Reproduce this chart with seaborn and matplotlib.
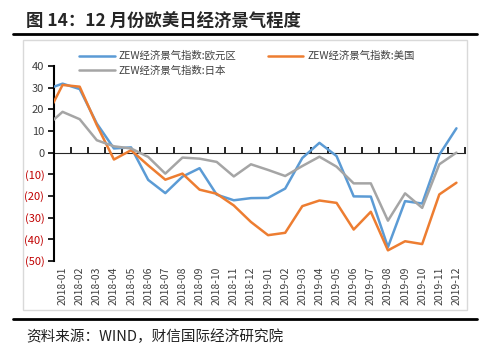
import numpy as np
import pandas as pd
import seaborn as sns
import matplotlib.pyplot as plt
from matplotlib.patches import Rectangle
from matplotlib.lines import Line2D

# months; the first one (2017-12) sits outside the visible range, the line is clipped at the axis
months = ["2017-12",
          "2018-01", "2018-02", "2018-03", "2018-04", "2018-05", "2018-06",
          "2018-07", "2018-08", "2018-09", "2018-10", "2018-11", "2018-12",
          "2019-01", "2019-02", "2019-03", "2019-04", "2019-05", "2019-06",
          "2019-07", "2019-08", "2019-09", "2019-10", "2019-11", "2019-12"]

euro = [29.0, 31.8, 29.3, 13.4, 1.9, 2.4, -12.6, -18.7, -11.1, -7.2, -19.4, -22.0, -21.0,
        -20.9, -16.6, -2.5, 4.5, -1.6, -20.2, -20.3, -43.6, -22.4, -23.5, -1.0, 11.2]
usa = [15.8, 31.2, 30.4, 12.7, -3.2, 1.1, -5.9, -12.5, -9.7, -17.1, -19.0, -24.4, -32.0,
       -38.1, -37.0, -24.7, -22.1, -23.2, -35.5, -27.3, -45.1, -40.9, -42.2, -19.3, -13.9]
japan = [11.8, 18.8, 15.4, 5.7, 2.9, 1.9, -2.0, -9.7, -2.3, -2.8, -4.3, -11.0, -5.4,
         -8.0, -10.8, -6.2, -1.9, -6.5, -14.2, -14.2, -31.4, -18.8, -25.5, -5.4, 0.0]

names = ["ZEW经济景气指数:欧元区", "ZEW经济景气指数:美国", "ZEW经济景气指数:日本"]
colors = ["#5B9BD5", "#ED7D31", "#A5A5A5"]

yticks = [40, 30, 20, 10, 0, -10, -20, -30, -40, -50]

pos = np.arange(len(months)) - 1
df = pd.concat([
    pd.DataFrame({"pos": pos, "value": v, "series": n})
    for v, n in zip([euro, usa, japan], names)
])

sns.set_style("white")
plt.rcParams["font.family"] = ["Noto Sans CJK SC", "DejaVu Sans"]

fig = plt.figure(figsize=(5, 3.58), dpi=100)
ax = fig.add_axes([0.108, 0.271, 0.822, 0.545])

sns.lineplot(data=df, x="pos", y="value", hue="series", palette=dict(zip(names, colors)),
             linewidth=1.8, ax=ax, legend=False, zorder=3)

ax.set_xlim(-0.5, len(months) - 1.5)
ax.set_ylim(-50, 40)
ax.set_xlabel("")
ax.set_ylabel("")

# x labels at the bottom, no ticks there
ax.set_xticks(pos[1:])
ax.set_xticklabels(months[1:], rotation=90, fontsize=7.5, color="#404040")
ax.tick_params(axis="x", length=0, pad=4)

ax.set_yticks(yticks)
ax.set_yticklabels([str(t) if t >= 0 else "(%d)" % -t for t in yticks], fontsize=8)
for lab, t in zip(ax.get_yticklabels(), yticks):
    lab.set_color("#C00000" if t < 0 else "#404040")
ax.tick_params(axis="y", direction="out", length=4, width=1.2, color="black", pad=3, left=True)

for s in ["top", "right", "bottom"]:
    ax.spines[s].set_visible(False)
ax.spines["left"].set_color("black")
ax.spines["left"].set_linewidth(1.5)

# zero line with tick marks between categories
frac0 = (0 - (-50)) / 90
sec = ax.secondary_xaxis(frac0)
sec.set_xticks(np.arange(-0.5, len(months) - 1, 1.0))
sec.set_xticklabels([])
sec.tick_params(axis="x", direction="out", length=4, width=1.2, color="black")
sec.spines["bottom"].set_color("black")
sec.spines["bottom"].set_linewidth(1.5)

handles = [Line2D([], [], color=colors[0], lw=1.8),
           Line2D([], [], color=colors[2], lw=1.8),
           Line2D([], [], color=colors[1], lw=1.8)]
labels = [names[0], names[2], names[1]]
fig.legend(handles, labels, ncol=2, loc="center left", bbox_to_anchor=(0.14, 0.823),
           frameon=False, fontsize=7.5, handlelength=3.4, columnspacing=3.0,
           labelspacing=0.45, handletextpad=0.4, labelcolor="#404040")

# chart border box
fig.patches.append(Rectangle((0.046, 0.134), 0.888, 0.754, transform=fig.transFigure,
                             fill=False, edgecolor="#D9D9D9", linewidth=1.0))

# title and rules
fig.text(0.052, 0.938, "图 14：12 月份欧美日经济景气程度", fontsize=12.5, fontweight="bold",
         va="center", ha="left")
fig.add_artist(Line2D([0.026, 0.954], [0.905, 0.905], color="black", lw=2.0,
                      transform=fig.transFigure))
fig.add_artist(Line2D([0.026, 0.954], [0.109, 0.109], color="black", lw=2.0,
                      transform=fig.transFigure))
fig.text(0.052, 0.058, "资料来源：WIND，财信国际经济研究院", fontsize=10.5, style="italic",
         va="center", ha="left", color="#202020")

fig.savefig("out.png", dpi=100)
